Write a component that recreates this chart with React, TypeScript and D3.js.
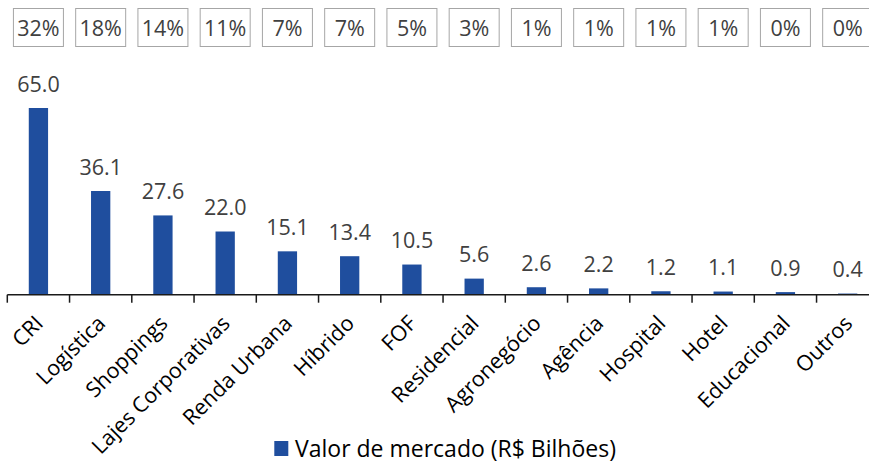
import React, {useRef, useEffect} from 'react'
import * as d3 from 'd3'

const categories = ['CRI', 'Logística', 'Shoppings', 'Lajes Corporativas', 'Renda Urbana', 'Híbrido', 'FOF', 'Residencial', 'Agronegócio', 'Agência', 'Hospital', 'Hotel', 'Educacional', 'Outros']
const values = [65.0, 36.1, 27.6, 22.0, 15.1, 13.4, 10.5, 5.6, 2.6, 2.2, 1.2, 1.1, 0.9, 0.4]
const shares = ['32%', '18%', '14%', '11%', '7%', '7%', '5%', '3%', '1%', '1%', '1%', '1%', '0%', '0%']
const seriesName = 'Valor de mercado (R$ Bilhões)'

const W = 869
const H = 462
const FONT = '"Open Sans", sans-serif'
const TEXT = '#404040'
const BLUE = '#1F4E9E'

export default function App() {
    const svgRef = useRef<SVGSVGElement>(null)

    useEffect(() => {
        const svg = d3.select(svgRef.current)
        svg.selectAll('*').remove()

        const axisY = 294.7
        const x = d3.scaleBand<string>()
            .domain(categories)
            .range([7.3, 7.3 + 62.25 * categories.length])
            .paddingInner(0)
        const y = d3.scaleLinear().domain([0, 65]).range([axisY, 108])

        const bw = x.bandwidth() * 0.31

        // bars
        svg.append('g').selectAll('rect')
            .data(values)
            .enter().append('rect')
            .attr('x', (d, i) => x(categories[i])! + x.bandwidth() / 2 - bw / 2)
            .attr('y', d => y(d))
            .attr('width', bw)
            .attr('height', d => axisY - y(d))
            .attr('fill', BLUE)

        // value labels
        svg.append('g').selectAll('text')
            .data(values)
            .enter().append('text')
            .attr('x', (d, i) => x(categories[i])! + x.bandwidth() / 2)
            .attr('y', d => y(d) - 16.5)
            .attr('text-anchor', 'middle')
            .attr('font-family', FONT)
            .attr('font-size', 21.5)
            .attr('fill', TEXT)
            .text(d => d.toFixed(1))

        // axis
        const ax = svg.append('g')
        ax.append('line')
            .attr('x1', 7.3).attr('x2', W)
            .attr('y1', axisY).attr('y2', axisY)
            .attr('stroke', '#1a1a1a').attr('stroke-width', 1.5)
        ax.selectAll('.tick')
            .data(categories)
            .enter().append('line')
            .attr('x1', d => x(d)!).attr('x2', d => x(d)!)
            .attr('y1', axisY).attr('y2', axisY + 8)
            .attr('stroke', '#1a1a1a').attr('stroke-width', 1.5)

        ax.selectAll('text')
            .data(categories)
            .enter().append('text')
            .attr('transform', d => `translate(${x(d)! + x.bandwidth() / 2 + 6}, ${axisY + 30}) rotate(-45)`)
            .attr('text-anchor', 'end')
            .attr('font-family', FONT)
            .attr('font-size', 21.5)
            .attr('fill', '#000')
            .text(d => d)

        // share boxes
        const boxes = svg.append('g').selectAll('g')
            .data(shares)
            .enter().append('g')
            .attr('transform', (d, i) => `translate(${x(categories[i])! + x.bandwidth() / 2}, 0)`)
        boxes.append('rect')
            .attr('x', -25).attr('y', 8.5)
            .attr('width', 50).attr('height', 38)
            .attr('fill', 'none')
            .attr('stroke', '#A6A6A6')
            .attr('stroke-width', 1)
        boxes.append('text')
            .attr('y', 35.5)
            .attr('text-anchor', 'middle')
            .attr('font-family', FONT)
            .attr('font-size', 21.5)
            .attr('fill', TEXT)
            .text(d => d)

        // legend
        const lg = svg.append('g')
        lg.append('rect')
            .attr('x', 274.3).attr('y', 441)
            .attr('width', 14).attr('height', 15)
            .attr('fill', BLUE)
        lg.append('text')
            .attr('x', 295).attr('y', 456.5)
            .attr('font-family', FONT)
            .attr('font-size', 23)
            .attr('fill', '#000')
            .text(seriesName)
    }, [])

    return (
        <svg ref={svgRef} width={W} height={H}
             style={{position: 'absolute', left: 0, top: 0, background: '#fff'}} />
    )
}
